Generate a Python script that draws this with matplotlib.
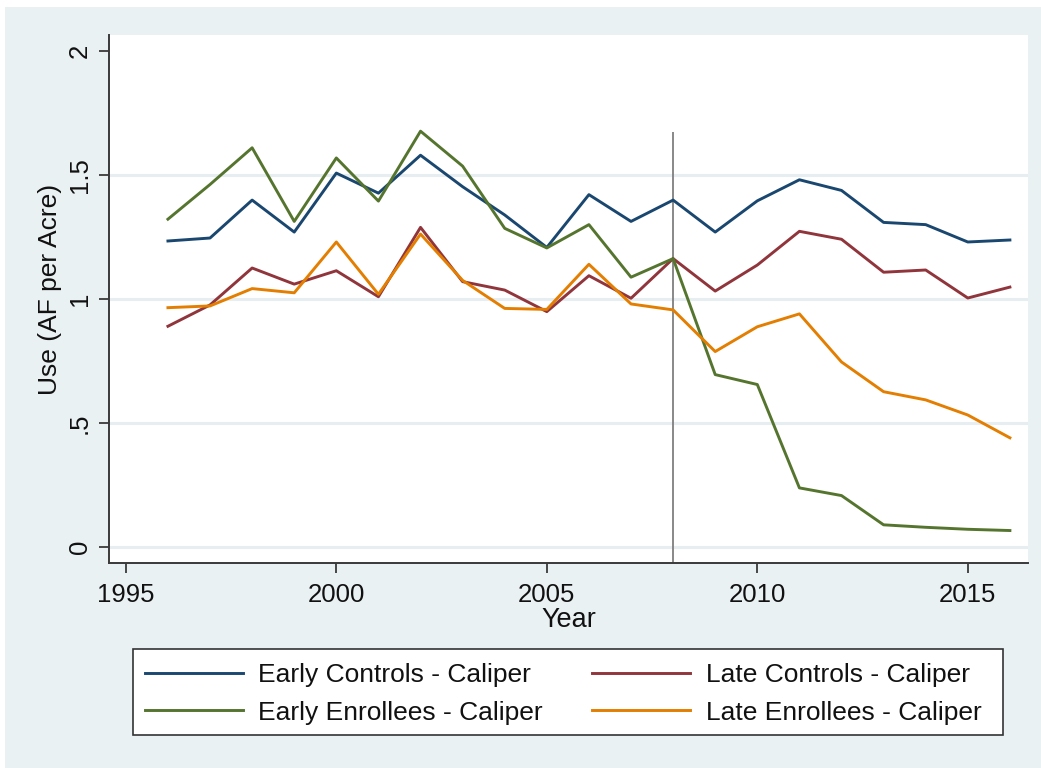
"""Water use per acre by enrollment group, caliper matched."""
import numpy as np
from matplotlib import pyplot as plt
from matplotlib.patches import Rectangle

years = list(range(1996, 2017))

early_controls = [1.234, 1.246, 1.399, 1.270, 1.508, 1.427, 1.580, 1.453, 1.339, 1.208,
                  1.421, 1.313, 1.399, 1.270, 1.396, 1.481, 1.438, 1.309, 1.300, 1.230, 1.238]
late_controls = [0.890, 0.976, 1.125, 1.060, 1.114, 1.009, 1.289, 1.070, 1.036, 0.949,
                 1.094, 1.003, 1.163, 1.032, 1.137, 1.273, 1.241, 1.108, 1.117, 1.004, 1.048]
early_enrollees = [1.322, 1.462, 1.610, 1.313, 1.569, 1.395, 1.677, 1.536, 1.285, 1.206,
                   1.300, 1.088, 1.163, 0.695, 0.655, 0.238, 0.207, 0.089, 0.079, 0.071, 0.066]
late_enrollees = [0.965, 0.972, 1.042, 1.025, 1.230, 1.019, 1.262, 1.075, 0.962, 0.958,
                  1.140, 0.980, 0.956, 0.788, 0.888, 0.940, 0.746, 0.626, 0.593, 0.532, 0.440]

labels = ['Early Controls - Caliper', 'Late Controls - Caliper',
          'Early Enrollees - Caliper', 'Late Enrollees - Caliper']
colors = ['#1a476f', '#90353b', '#55752f', '#e37e00']

policy_year = 2008
policy_line_top = 1.675

xticks = [1995, 2000, 2005, 2010, 2015]
yticks = [0, 0.5, 1, 1.5, 2]
ytick_labels = ['0', '.5', '1', '1.5', '2']

bg = '#eaf1f3'
W, H = 1041, 768
plt.rcParams['font.family'] = ['Liberation Sans', 'DejaVu Sans']

fig = plt.figure(figsize=(W / 100, H / 100), dpi=100)
fig.patch.set_facecolor('white')
fig.patches.append(Rectangle((5 / W, 0), 1, 761 / H, transform=fig.transFigure,
                             facecolor=bg, edgecolor='none', zorder=-10))

ax = fig.add_axes([109 / W, 205 / H, 919 / W, 528 / H])
ax.set_facecolor('white')

for yv in [0, 0.5, 1, 1.5]:
    ax.axhline(yv, color='#e6eef1', lw=2.2, zorder=0)

series = [early_controls, late_controls, early_enrollees, late_enrollees]
handles = []
for vals, lab, col in zip(series, labels, colors):
    h, = ax.plot(years, vals, color=col, lw=2.1, label=lab, zorder=3)
    handles.append(h)

ax.vlines(policy_year, -0.065, policy_line_top, color='#7f7f7f', lw=1.3, zorder=2)

ax.set_xlim(1994.6, 2016.43)
ax.set_ylim(-0.065, 2.065)
ax.set_xticks(xticks)
ax.set_yticks(yticks)
ax.set_yticklabels(ytick_labels, rotation=90, va='center')

for side in ['top', 'right']:
    ax.spines[side].set_visible(False)
for side in ['left', 'bottom']:
    ax.spines[side].set_color('#3a3a3a')
    ax.spines[side].set_linewidth(1.4)
ax.tick_params(axis='both', direction='out', length=7.5, width=1.3, color='#3a3a3a',
               labelsize=18.5, labelcolor='#111111')
ax.tick_params(axis='x', pad=7)
ax.tick_params(axis='y', pad=5)

ax.set_xlabel('Year', fontsize=19.5, color='#111111', labelpad=0)
ax.set_ylabel('Use (AF per Acre)', fontsize=19, color='#111111')
ax.yaxis.set_label_coords(-0.051, 0.519)

# legend box below the axes, entries in two columns
fig.patches.append(Rectangle((133 / W, (H - 735) / H), 870 / W, 86 / H,
                             transform=fig.transFigure, facecolor='white',
                             edgecolor='#333333', lw=1.2, zorder=1))
order = [0, 2, 1, 3]
leg = fig.legend([handles[i] for i in order], [labels[i] for i in order],
                 ncol=2, loc='upper left',
                 bbox_to_anchor=(145 / W, (H - 663) / H),
                 fontsize=19, frameon=False,
                 handlelength=3.7, handletextpad=0.6, labelspacing=0.52,
                 columnspacing=1.86, borderpad=0, borderaxespad=0)
for line in leg.get_lines():
    line.set_linewidth(2.1)
for t in leg.get_texts():
    t.set_color('#111111')

plt.savefig('out.png', dpi=100, facecolor=fig.get_facecolor())
